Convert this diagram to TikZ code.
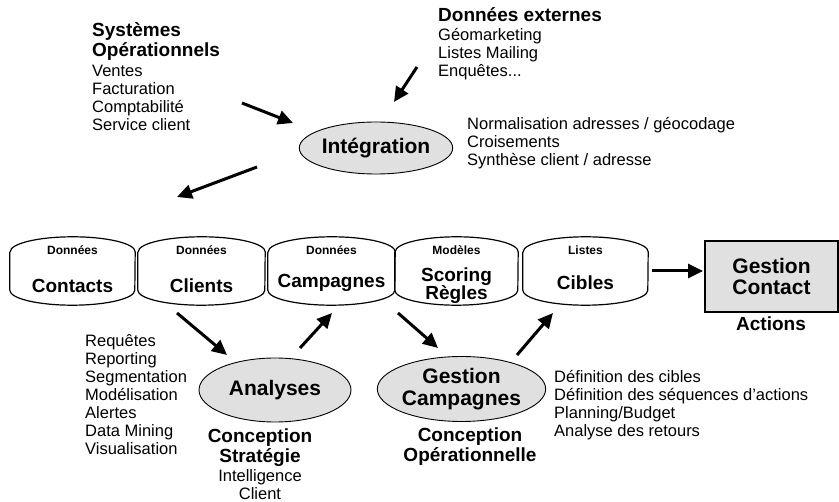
\documentclass[tikz,border=0pt]{standalone}
\usepackage{fontspec}
\setmainfont{Liberation Sans}
\usetikzlibrary{shapes.geometric,arrows.meta}

\definecolor{shade}{HTML}{E0E0E0}

% multi-line nodes below are placed by the baseline of their last line
\tikzset{
  head/.style={font=\fontsize{19}{20}\selectfont\bfseries, inner sep=0pt, align=left, anchor=base west},
  lst/.style={font=\fontsize{16.5}{18}\selectfont, inner sep=0pt, align=left, anchor=base west},
  ctrhead/.style={font=\fontsize{19}{20.5}\selectfont\bfseries, inner sep=0pt, align=center, anchor=base},
  ctrlst/.style={font=\fontsize{16.5}{18}\selectfont, inner sep=0pt, align=center, anchor=base},
  proc/.style={ellipse, draw, line width=0.9pt, fill=shade, inner sep=0pt,
    font=\fontsize{21}{22}\selectfont\bfseries, align=center},
  store/.style={rectangle, inner sep=0pt, minimum height=38pt},
  kind/.style={font=\fontsize{12}{12}\selectfont\bfseries, inner sep=0pt, anchor=base},
  what/.style={font=\fontsize{19}{19}\selectfont\bfseries, inner sep=0pt, anchor=base, align=center},
  flow/.style={line width=3pt, -{Triangle[length=15pt,width=14pt]}},
}

% outline of an open-topped can around a named store node
\newcommand{\candraw}[2]{%
  \draw[line width=1.2pt] (#1.north west) -- (#1.south west)
    arc[start angle=180, end angle=360, x radius=#2, y radius=15pt]
    -- (#1.north east)
    arc[start angle=0, end angle=180, x radius=#2, y radius=15pt];}

\begin{document}
\begin{tikzpicture}[x=1pt,y=-1pt]
\useasboundingbox (0,0) rectangle (839,502);

% sources
\node[head] (srchead) at (92,57) {Systèmes\\Opérationnels};
\node[lst] (srclist) at (92,131) {Ventes\\Facturation\\Comptabilité\\Service client};
\node[head] (exthead) at (438,22) {Données externes};
\node[lst] (extlist) at (438,77) {Géomarketing\\Listes Mailing\\Enquêtes...};

% integration
\node[proc, minimum width=152pt, minimum height=52pt] (integ) at (376,148) {Intégration};
\node[lst] (integnote) at (467,166) {Normalisation adresses / géocodage\\Croisements\\Synthèse client / adresse};

% data stores
\node[store, minimum width=125pt] (contacts) at (72.5,271) {};
\node[store, minimum width=127pt] (clients) at (201.5,271) {};
\node[store, minimum width=127pt] (campaigns) at (331.5,271) {};
\node[store, minimum width=123pt] (models) at (456.5,271) {};
\node[store, minimum width=125pt] (targets) at (585.5,271) {};
\candraw{contacts}{62.5pt}
\candraw{clients}{63.5pt}
\candraw{campaigns}{63.5pt}
\candraw{models}{61.5pt}
\candraw{targets}{62.5pt}

\node[kind] (contactskind) at (72.5,255) {Données};
\node[what] (contactsname) at (72.5,293) {Contacts};
\node[kind] (clientskind) at (201.5,255) {Données};
\node[what] (clientsname) at (201.5,293) {Clients};
\node[kind] (campaignskind) at (331.5,255) {Données};
\node[what] (campaignsname) at (331.5,288) {Campagnes};
\node[kind] (modelskind) at (456.5,255) {Modèles};
\node[what] (modelsname) at (456.5,300) {Scoring\\[-0.5pt]Règles};
\node[kind] (targetskind) at (585.5,255) {Listes};
\node[what] (targetsname) at (585.5,290) {Cibles};

% contact management
\node[rectangle, draw, line width=1.2pt, fill=shade, minimum width=133pt, minimum height=71pt,
  font=\fontsize{21}{21.5}\selectfont\bfseries, align=center, inner sep=0pt] (contact) at (771.5,276.5) {Gestion\\Contact};
\node[ctrhead] (actions) at (771,331) {Actions};

% analysis
\node[proc, minimum width=152pt, minimum height=64pt] (analysis) at (275,390) {Analyses};
\node[lst] (analysislist) at (85,455) {Requêtes\\Reporting\\Segmentation\\Modélisation\\Alertes\\Data Mining\\Visualisation};
\node[ctrhead] (strat) at (260,463) {Conception\\Stratégie};
\node[ctrlst] (intel) at (260,500) {Intelligence\\Client};

% campaign management
\node[proc, minimum width=151pt, minimum height=65pt, font=\fontsize{21}{22}\selectfont\bfseries] (campmgmt) at (461.5,389) {Gestion\\Campagnes};
\node[lst] (campnote) at (554,437) {Définition des cibles\\Définition des séquences d’actions\\Planning/Budget\\Analyse des retours};
\node[ctrhead] (oper) at (470,462) {Conception\\Opérationnelle};

% arrow ends
\coordinate (a1) at (242,103); \coordinate (b1) at (293,123);
\coordinate (a2) at (417,67);  \coordinate (b2) at (394,102);
\coordinate (a3) at (257,167); \coordinate (b3) at (177,197);
\coordinate (a4) at (177,313); \coordinate (b4) at (227,355);
\coordinate (a5) at (300,348); \coordinate (b5) at (332,313);
\coordinate (a6) at (398,313); \coordinate (b6) at (438,348);
\coordinate (a7) at (517,355); \coordinate (b7) at (553,313);
\coordinate (a8) at (652,271); \coordinate (b8) at (703,271);

\draw[flow] (a1) -- (b1);
\draw[flow] (a2) -- (b2);
\draw[flow] (a3) -- (b3);
\draw[flow] (a4) -- (b4);
\draw[flow] (a5) -- (b5);
\draw[flow] (a6) -- (b6);
\draw[flow] (a7) -- (b7);
\draw[flow] (a8) -- (b8);
\end{tikzpicture}
\end{document}
